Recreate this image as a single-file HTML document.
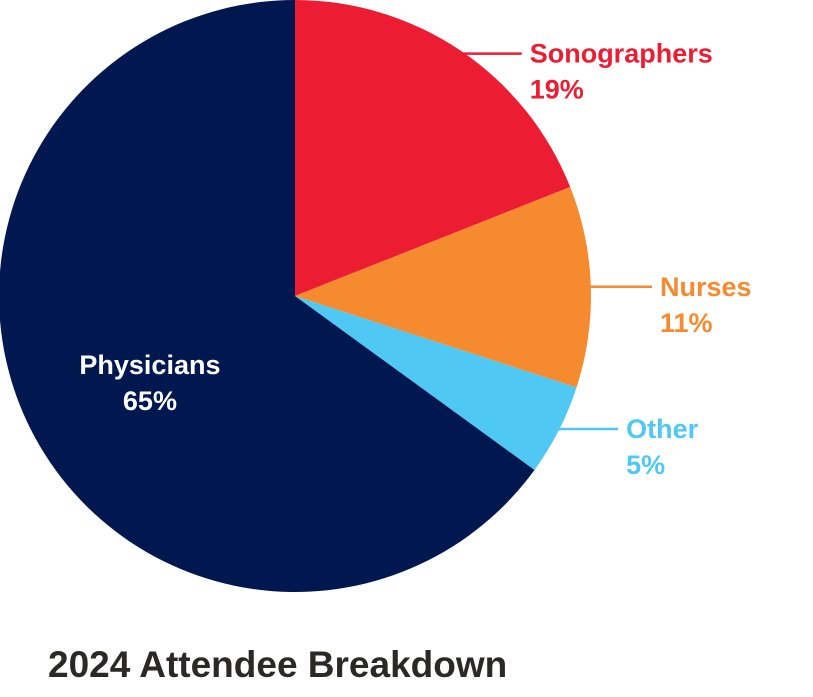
<!DOCTYPE html>
<html><head><meta charset="utf-8">
<style>
html,body{margin:0;padding:0;background:#fff;width:813px;height:697px;overflow:hidden}
svg text{font-family:"Liberation Sans",sans-serif;font-weight:bold}
</style></head>
<body>
<svg width="813" height="697" viewBox="0 0 813 697">
<g id="slices"></g>
<g id="labels"></g>
<text x="48" y="677" font-size="37" fill="#2b2925">2024 Attendee Breakdown</text>
</svg>
<script>
const categories = ["Sonographers","Nurses","Other","Physicians"];
const values = [19, 11, 5, 65];
const valueLabels = ["19%","11%","5%","65%"];
const colors = ["#ec1c32","#f58a2f","#4fc8f4","#00174f"];
const cx = 295, cy = 296, r = 296;
const NS = "http://www.w3.org/2000/svg";
const total = values.reduce((a,b)=>a+b,0);
function pt(frac, rad){const a = frac*2*Math.PI; return [cx + rad*Math.sin(a), cy - rad*Math.cos(a)];}
const sg = document.getElementById('slices');
const lg = document.getElementById('labels');
let acc = 0;
values.forEach((v,i)=>{
  const s = acc/total, e = (acc+v)/total; acc += v;
  const [x1,y1] = pt(s,r), [x2,y2] = pt(e,r);
  const large = (e-s) > 0.5 ? 1 : 0;
  const p = document.createElementNS(NS,'path');
  p.setAttribute('d',`M${cx},${cy} L${x1},${y1} A${r},${r} 0 ${large} 1 ${x2},${y2} Z`);
  p.setAttribute('fill',colors[i]);
  
  
  sg.appendChild(p);
  const mid = (s+e)/2;
  let lx, ly, col = colors[i], anchor = 'start';
  if (categories[i] === 'Physicians') {
    const [mx,my] = pt(mid, r*0.55);
    lx = mx; ly = my - 5; col = '#fff'; anchor = 'middle';
  } else {
    const [ax,ay] = pt(mid, r*0.99);
    const [bx] = pt(mid, r*1.2);
    lx = Math.max(bx, ax + 60) + 10; ly = ay;
    const l = document.createElementNS(NS,'line');
    l.setAttribute('x1', ax); l.setAttribute('y1', ay);
    l.setAttribute('x2', lx - 8); l.setAttribute('y2', ay);
    l.setAttribute('stroke', colors[i]); l.setAttribute('stroke-width', 2.5);
    
    
    lg.appendChild(l);
  }
  const t1 = document.createElementNS(NS,'text');
  t1.setAttribute('x', lx); t1.setAttribute('y', ly + 9);
  t1.setAttribute('font-size', 27); t1.setAttribute('fill', col); t1.setAttribute('text-anchor', anchor);
  t1.textContent = categories[i];
  
  
  lg.appendChild(t1);
  const t2 = document.createElementNS(NS,'text');
  t2.setAttribute('x', lx); t2.setAttribute('y', ly + 45);
  t2.setAttribute('font-size', 27); t2.setAttribute('fill', col); t2.setAttribute('text-anchor', anchor);
  t2.textContent = valueLabels[i];
  
  
  lg.appendChild(t2);
});
</script>
</body></html>
